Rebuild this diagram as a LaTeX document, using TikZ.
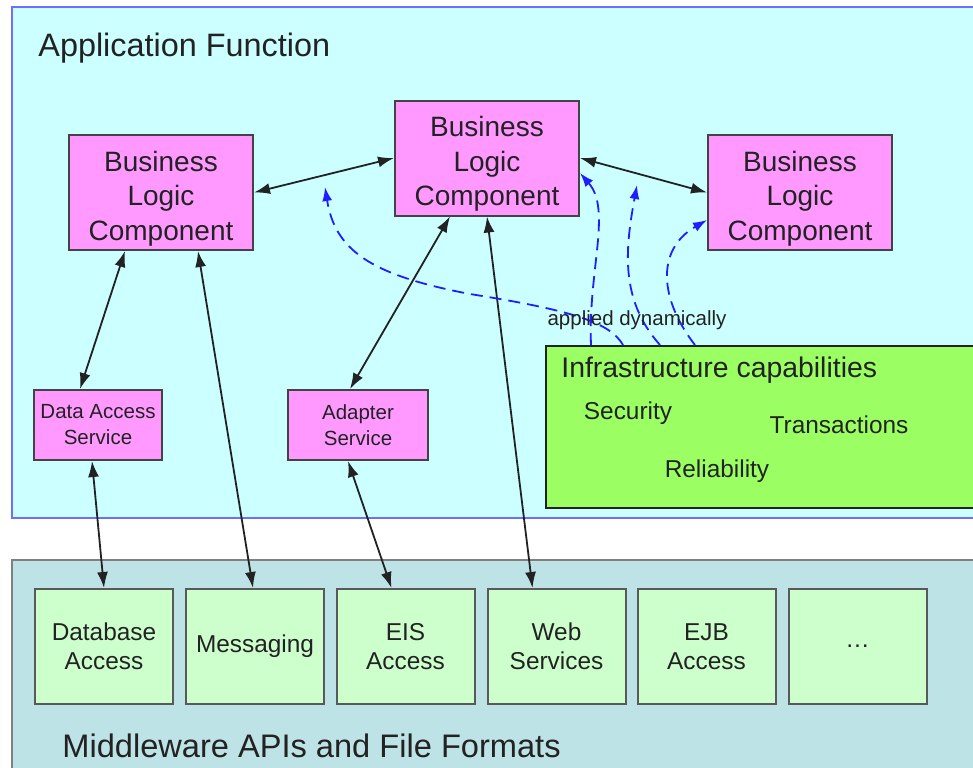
\documentclass[tikz,border=0pt]{standalone}
\usepackage{fontspec}
\setmainfont{Liberation Sans}
\usetikzlibrary{arrows.meta}
\definecolor{app cyan}{RGB}{204,255,255}
\definecolor{app frame}{RGB}{110,110,255}
\definecolor{logic pink}{RGB}{255,153,255}
\definecolor{infra green}{RGB}{155,255,100}
\definecolor{api teal}{RGB}{190,227,230}
\definecolor{api green}{RGB}{204,255,204}
\definecolor{dyn blue}{RGB}{30,30,255}
\definecolor{ink}{RGB}{34,34,34}
\newcommand{\logictext}{\rule{0pt}{16pt}Business\\Logic\\Component}

\begin{document}
\begin{tikzpicture}[x=0.5pt, y=-0.5pt, text=ink,
		logic/.style={draw=ink!85, fill=logic pink, line width=1pt, inner sep=0pt,
			minimum width=92pt, minimum height=57.5pt, align=center,
			font=\fontsize{14}{17.2}\selectfont},
		service/.style={draw=ink!85, fill=logic pink, line width=1pt, inner sep=0pt,
			minimum height=35pt, align=center, font=\fontsize{10.25}{13}\selectfont},
		api/.style={draw=ink!75, fill=api green, line width=1pt, inner sep=0pt,
			minimum width=69pt, minimum height=57.5pt, align=center,
			font=\fontsize{12.2}{14.5}\selectfont},
		biarrow/.style={line width=0.9pt, ink,
			{Latex[length=8pt,width=5.5pt]}-{Latex[length=8pt,width=5.5pt]}},
		dyn/.style={line width=0.9pt, dyn blue, dash pattern=on 6pt off 3.5pt,
			-{Latex[length=7pt,width=5pt]}}]
			\useasboundingbox (0,0) rectangle (973,767);
			\clip (0,0) rectangle (973,767);
			% application frame
			\begin{scope}
				\draw[app frame, fill=app cyan, line width=0.8pt] (12,7) rectangle (990,518);
				\node[anchor=west, inner sep=0pt, font=\fontsize{16.2}{19}\selectfont] (apptitle) at (38,48) {Application Function};
			\end{scope}
			% middleware band
			\begin{scope}
				\draw[gray, fill=api teal, line width=0.8pt] (12,560) rectangle (990,790);
				\node[anchor=west, inner sep=0pt, font=\fontsize{16.3}{19}\selectfont] (apititle) at (62,746) {Middleware APIs and File Formats};
				\node[api] (dbacc) at (104,646.5) {Database\\Access};
				\node[api] (msg) at (255,646.5) {Messaging};
				\node[api] (eis) at (405.5,646.5) {EIS\\Access};
				\node[api] (web) at (556.5,646.5) {Web\\Services};
				\node[api] (ejb) at (706.5,646.5) {EJB\\Access};
				\node[api] (more) at (857.5,646.5) {\ldots};
			\end{scope}
			% business logic and services
			\node[logic] (logicl) at (161,192.5) {\logictext};
			\node[logic] (logicm) at (487,158) {\logictext};
			\node[logic] (logicr) at (800,192.5) {\logictext};
			\node[service, minimum width=64pt] (dataserv) at (98,425) {Data Access\\Service};
			\node[service, minimum width=70pt] (adapter) at (358,425) {Adapter\\Service};
			% infrastructure
			\node[draw=ink, fill=infra green, line width=1pt, anchor=north west,
				minimum width=222.5pt, minimum height=81pt] (infra) at (545,345) {};
			\node[anchor=west, inner sep=0pt, font=\fontsize{14.2}{17}\selectfont] (infratitle) at (561,370) {Infrastructure capabilities};
			\node[font=\fontsize{12.2}{14}\selectfont] (security) at (628,413) {Security};
			\node[font=\fontsize{12.2}{14}\selectfont] (transact) at (839,425) {Transactions};
			\node[font=\fontsize{12.2}{14}\selectfont] (reliab) at (717,471) {Reliability};
			% calls
			\draw[biarrow] (logicl.east) -- (logicm.west);
			\draw[biarrow] (logicm.east) -- (logicr.west);
			\draw[biarrow] ([xshift=-18pt]logicl.south) -- ([xshift=-9pt]dataserv.north);
			\draw[biarrow] ([xshift=18.5pt]logicl.south) -- ([xshift=-1pt]msg.north);
			\draw[biarrow] ([xshift=-18.5pt]logicm.south) -- ([xshift=-4pt]adapter.north);
			\draw[biarrow] (logicm.south) -- ([xshift=-12pt]web.north);
			\draw[biarrow] ([xshift=-3pt]dataserv.south) -- (dbacc.north);
			\draw[biarrow] ([xshift=-5pt]adapter.south) -- ([xshift=-7pt]eis.north);
			% applied dynamically
			\coordinate (tipa) at (325,187);
			\coordinate (tipb) at (637,185);
			\draw[dyn] ([xshift=23pt]infra.north west) .. controls (588,270) and (612,210) .. ([yshift=-7.5pt]logicm.east);
			\draw[dyn] ([xshift=39pt]infra.north west) .. controls (610,322) and (570,310) .. (470,294)
				.. controls (370,275) and (335,250) .. (tipa);
			\draw[dyn] ([xshift=57.5pt]infra.north west) .. controls (620,300) and (625,250) .. (tipb);
			\draw[dyn] ([xshift=75pt]infra.north west) .. controls (660,300) and (655,250) .. ([yshift=-13.75pt]logicr.west);
			\node[font=\fontsize{10.25}{12}\selectfont] (dynlabel) at (637,320) {applied dynamically};
		\end{tikzpicture}
\end{document}
